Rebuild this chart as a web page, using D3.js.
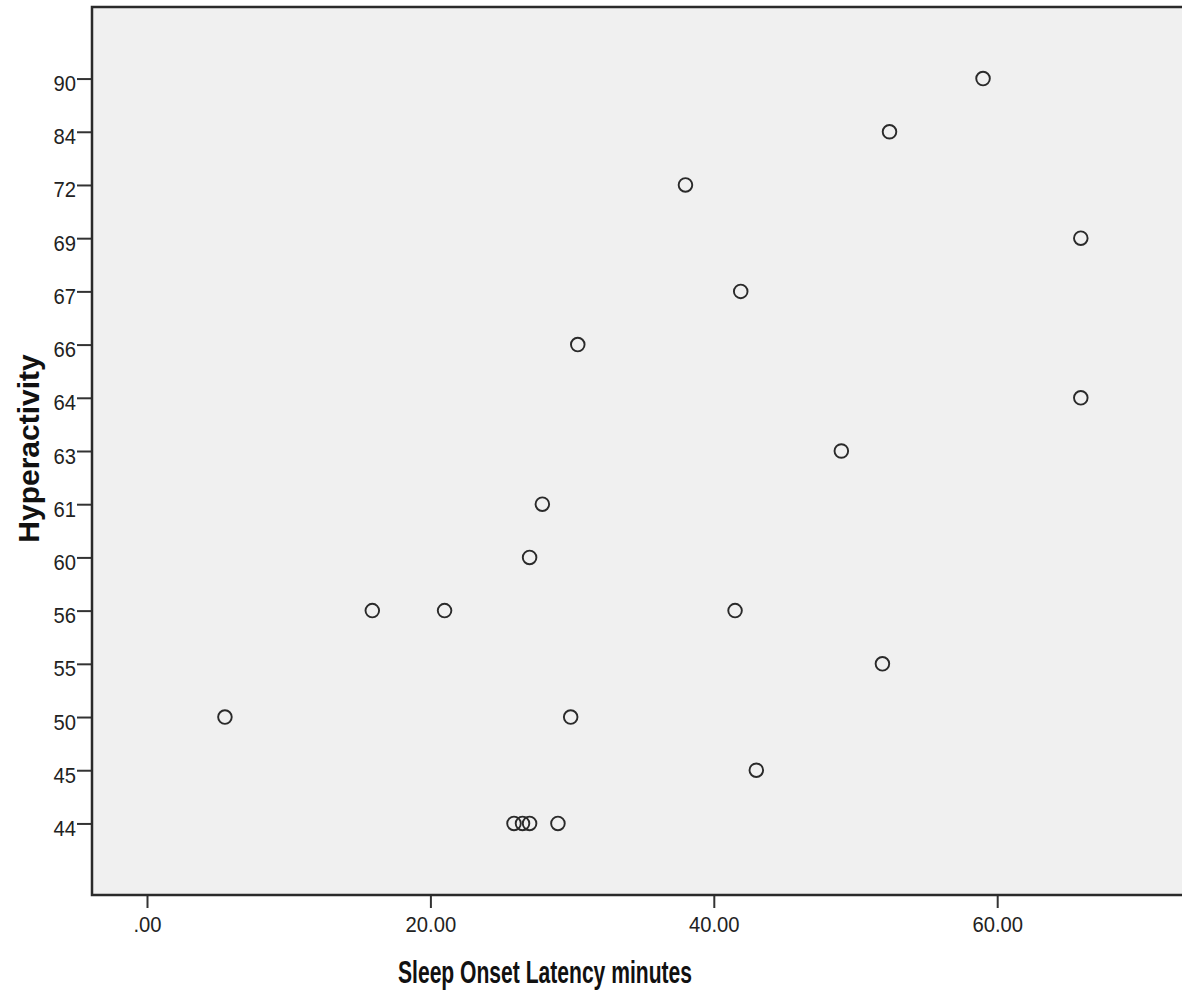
<!DOCTYPE html>
<html>
<head>
<meta charset="utf-8">
<script src="https://d3js.org/d3.v7.min.js"></script>
<style>
  body { margin: 0; background: white; }
  svg { display: block; }
</style>
</head>
<body>
<svg id="chart"></svg>
<script>
// y categories (Hyperactivity, shown as ordinal categories)
var hyperLevels = ["44", "45", "50", "55", "56", "60", "61", "63", "64", "66", "67", "69", "72", "84", "90"];
var xTicks = [0, 20, 40, 60];

// points: sleep onset latency (minutes) and hyperactivity category
var latency = [59.0, 52.4, 38.0, 65.9, 41.9, 30.4, 65.9, 49.0, 27.9, 27.0, 15.9, 21.0, 41.5, 51.9, 5.5, 29.9, 43.0, 25.9, 26.5, 27.0, 29.0];
var hyper   = ["90", "84", "72", "69", "67", "66", "64", "63", "61", "60", "56", "56", "56", "55", "50", "50", "45", "44", "44", "44", "44"];

var width = 1182, height = 995;
var plotLeft = 92, plotTop = 7, plotBottom = 895, plotRight = 1182;

var svg = d3.select("#chart")
    .attr("width", width)
    .attr("height", height)
    .style("font-family", "'Liberation Sans', Arial, sans-serif")

var xScale = d3.scaleLinear()
    .domain([0, 73])
    .range([147, 147 + 73 * 14.17]);

var yScale = d3.scalePoint()
    .domain(hyperLevels)
    .range([plotBottom, plotTop])
    .padding(1.345);

// plot background
svg.append("rect")
    .attr("x", plotLeft)
    .attr("y", plotTop)
    .attr("width", plotRight - plotLeft + 5)
    .attr("height", plotBottom - plotTop)
    .attr("fill", "#f0f0f0")

// x axis
var xAxis = svg.append("g")
    .attr("transform", "translate(0," + plotBottom + ")")
    .call(d3.axisBottom(xScale).tickValues(xTicks).tickSize(13).tickFormat(d => d == 0 ? ".00" : d3.format(".2f")(d)));
xAxis.select(".domain").remove();
xAxis.selectAll("line").attr("stroke", "#333").attr("stroke-width", 2);
xAxis.selectAll("text")
    .attr("font-size", 22)
    .attr("fill", "#222")
    .attr("y", 0).attr("dy", 0)
    .attr("transform", "translate(0,37) scale(0.92,1)");

// y axis
var yAxis = svg.append("g")
    .attr("transform", "translate(" + plotLeft + ",0)")
    .call(d3.axisLeft(yScale).tickSize(15));
yAxis.select(".domain").remove();
yAxis.selectAll("line").attr("stroke", "#333").attr("stroke-width", 2);
yAxis.selectAll("text")
    .attr("font-size", 22)
    .attr("fill", "#222")
    .attr("x", 0).attr("dy", 0)
    .attr("transform", "translate(-16,12) scale(0.92,1)");

// frame lines (left, top, bottom)
svg.append("path")
    .attr("d", "M" + (plotRight + 5) + "," + plotTop + "H" + plotLeft + "V" + plotBottom + "H" + (plotRight + 5))
    .attr("fill", "none")
    .attr("stroke", "#2a2a2a")
    .attr("stroke-width", 2.5)

// points
svg.selectAll("circle.pt")
    .data(latency)
    .join("circle")
    .attr("class", "pt")
    .attr("cx", d => xScale(d))
    .attr("cy", (d, i) => yScale(hyper[i]))
    .attr("r", 6.8)
    .attr("fill", "none")
    .attr("stroke", "#2a2a2a")
    .attr("stroke-width", 1.9)

// axis titles
svg.append("text")
    .attr("x", 545)
    .attr("y", 983)
    .attr("text-anchor", "middle")
    .attr("font-size", 31)
    .attr("font-weight", "bold")
    .attr("fill", "#111")
    .attr("textLength", 294)
    .attr("lengthAdjust", "spacingAndGlyphs")
    .text("Sleep Onset Latency minutes");

svg.append("text")
    .attr("transform", "translate(39,448.5) rotate(-90)")
    .attr("text-anchor", "middle")
    .attr("font-size", 30)
    .attr("font-weight", "bold")
    .attr("fill", "#111")
    .text("Hyperactivity");
</script>
</body>
</html>
